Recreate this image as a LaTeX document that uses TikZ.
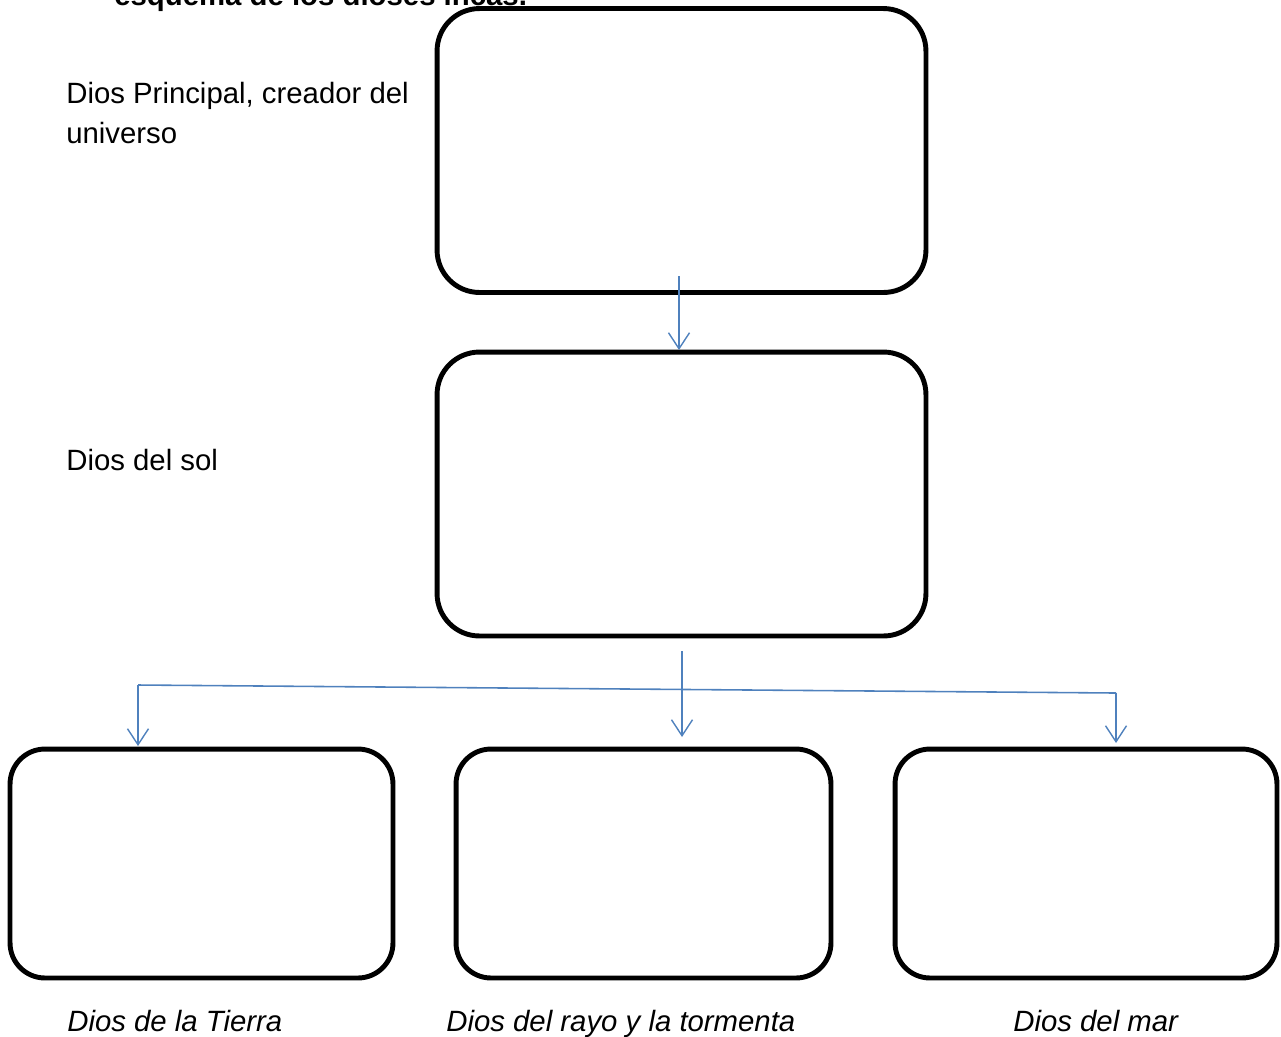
\documentclass[tikz,border=0pt]{standalone}
\usepackage{fontspec}
\setmainfont{Liberation Sans}
\usepackage{tikz}
\usetikzlibrary{positioning}
\usetikzlibrary{arrows.meta}
\definecolor{azul}{RGB}{79,129,189}

\begin{document}
\begin{tikzpicture}[
            x = 0.02cm, y = -0.02cm, % one unit is one pixel of the sheet
            > = {Straight Barb[length=0.32cm, width=0.42cm, line width=0.8pt]}, % open arrow head
            font = \fontsize{16.7}{22.8}\selectfont
        ]

        \tikzstyle{caja}=[
            draw,
            line width = 2.8pt,
            rounded corners = 0.85cm,
            inner sep = 0pt
        ]
        \tikzstyle{cajita}=[caja, rounded corners = 0.7cm]
        \tikzstyle{flecha}=[azul, line width = 0.9pt]
        \tikzstyle{texto}=[anchor = base west, inner sep = 0pt]

        \useasboundingbox (0,0) rectangle (1281,1036);

% title (cut by the page)
        \node[texto, font=\fontsize{16.7}{22.8}\selectfont\bfseries] (titulo) at (114,5) {esquema de los dioses incas.};

        % boxes
        \node[caja, minimum width=9.78cm, minimum height=5.68cm] (P) at (681.5,150.5) {};
        \node[caja, minimum width=9.78cm, minimum height=5.68cm] (S) at (681.5,494) {};
        \node[cajita, minimum width=7.66cm, minimum height=4.58cm] (T) at (201.5,863.5) {};
        \node[cajita, minimum width=7.50cm, minimum height=4.58cm] (R) at (643.5,863.5) {};
        \node[cajita, minimum width=7.64cm, minimum height=4.58cm] (M) at (1086,863.5) {};

        % labels
        \node[texto] (lP) at (66,103) {Dios Principal, creador del};
        \node[texto] (lP2) at (66,143) {universo};
        \node[texto] (lS) at (66,470) {Dios del sol};
        \node[texto, font=\fontsize{16.7}{22.8}\selectfont\itshape] (lT) at (67,1031) {Dios de la Tierra};
        \node[texto, font=\fontsize{16.7}{22.8}\selectfont\itshape] (lR) at (446,1031) {Dios del rayo y la tormenta};
        \node[texto, font=\fontsize{16.7}{22.8}\selectfont\itshape] (lM) at (1013,1031) {Dios del mar};

        % arrows
        \coordinate (a1) at (679,276);
        \coordinate (a2) at (679,350);
        \draw[flecha, ->] (a1) -- (a2);

        \coordinate (b1) at (682,651);
        \coordinate (b2) at (682,737);
        \draw[flecha, ->] (b1) -- (b2);

        \coordinate (hL) at (138,685);
        \coordinate (hR) at (1116,693);
        \coordinate (tL) at (138,746);
        \coordinate (tR) at (1116,743);
        \draw[flecha] (hL) -- (hR);
        \draw[flecha, ->] (hL) -- (tL);
        \draw[flecha, ->] (hR) -- (tR);

\end{tikzpicture}
\end{document}
